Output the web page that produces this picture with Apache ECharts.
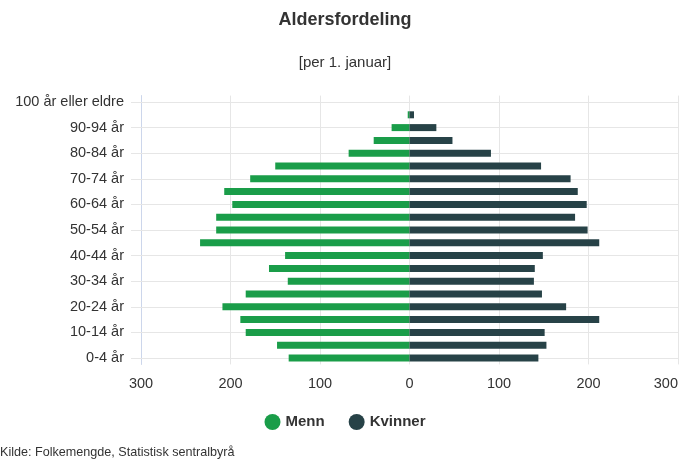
<!DOCTYPE html>
<html>
<head>
<meta charset="utf-8">
<script src="https://cdn.jsdelivr.net/npm/echarts@6/dist/echarts.min.js"></script>
<style>
html,body{margin:0;padding:0;background:#fff;}
#c{width:690px;height:460px;}
</style>
</head>
<body>
<div id="c"></div>
<script>
const categories = ['0-4 år','5-9 år','10-14 år','15-19 år','20-24 år','25-29 år','30-34 år','35-39 år','40-44 år','45-49 år','50-54 år','55-59 år','60-64 år','65-69 år','70-74 år','75-79 år','80-84 år','85-89 år','90-94 år','95-99 år','100 år eller eldre'];
const menn = [135, 148, 183, 189, 209, 183, 136, 157, 139, 234, 216, 216, 198, 207, 178, 150, 68, 40, 20, 2, 0];
const kvinner = [144, 153, 151, 212, 175, 148, 139, 140, 149, 212, 199, 185, 198, 188, 180, 147, 91, 48, 30, 5, 0];
const xTicks = [-300, -200, -100, 0, 100, 200, 300];

const FONT = '"Liberation Sans", Arial, sans-serif';
const chart = echarts.init(document.getElementById('c'));
chart.setOption({
  animation: false,
  textStyle: { fontFamily: FONT },
  title: [
    { text: 'Aldersfordeling', left: 'center', top: 6,
      textStyle: { fontSize: 18, fontWeight: 'bold', color: '#333', fontFamily: FONT } },
    { text: '[per 1. januar]', left: 'center', top: 50,
      textStyle: { fontSize: 15, fontWeight: 'normal', color: '#333', fontFamily: FONT } },
    { text: 'Kilde: Folkemengde, Statistisk sentralbyrå', left: 0, top: 443, padding: [3, 0, 0, 0],
      textStyle: { fontSize: 12.6, fontWeight: 'normal', color: '#333', fontFamily: FONT } }
  ],
  legend: {
    top: 409, left: 'center',
    icon: 'circle', itemWidth: 16, itemHeight: 16, itemGap: 24,
    textStyle: { fontSize: 15, fontWeight: 'bold', color: '#333', fontFamily: FONT },
    data: ['Menn', 'Kvinner']
  },
  grid: { left: 141, right: 12, top: 95.6, height: 268.8, containLabel: false },
  xAxis: {
    type: 'value', min: xTicks[0], max: xTicks[xTicks.length - 1], interval: 100,
    axisLine: { show: false }, axisTick: { show: false },
    splitLine: { show: true, lineStyle: { color: '#e6e6e6', width: 1 } },
    axisLabel: { fontSize: 14.5, color: '#333', margin: 12, alignMaxLabel: 'right',
      formatter: v => String(Math.abs(v)) }
  },
  yAxis: {
    type: 'category', data: categories, boundaryGap: true,
    axisLine: { show: true, onZero: false, lineStyle: { color: '#ccd6eb' } },
    axisTick: { show: true, alignWithLabel: true, interval: 1, length: 10, lineStyle: { color: '#e6e6e6' } },
    splitLine: { show: false },
    axisLabel: { interval: 1, fontSize: 14.5, color: '#333', margin: 17 }
  },
  series: [
    { name: 'Menn', type: 'bar', stack: 'a', barWidth: 7,
      itemStyle: { color: '#1a9d49' },
      data: menn.map(v => -v) },
    { name: 'Kvinner', type: 'bar', stack: 'a', barWidth: 7,
      itemStyle: { color: '#274247' },
      data: kvinner,
      markLine: {
        silent: true, symbol: 'none', z: 1,
        label: { show: false },
        lineStyle: { color: '#e6e6e6', type: 'solid', width: 1 },
        emphasis: { disabled: true },
        data: categories.filter((c, i) => i % 2 === 0).map(c => ({ yAxis: c }))
      } }
  ]
});
</script>
</body>
</html>
